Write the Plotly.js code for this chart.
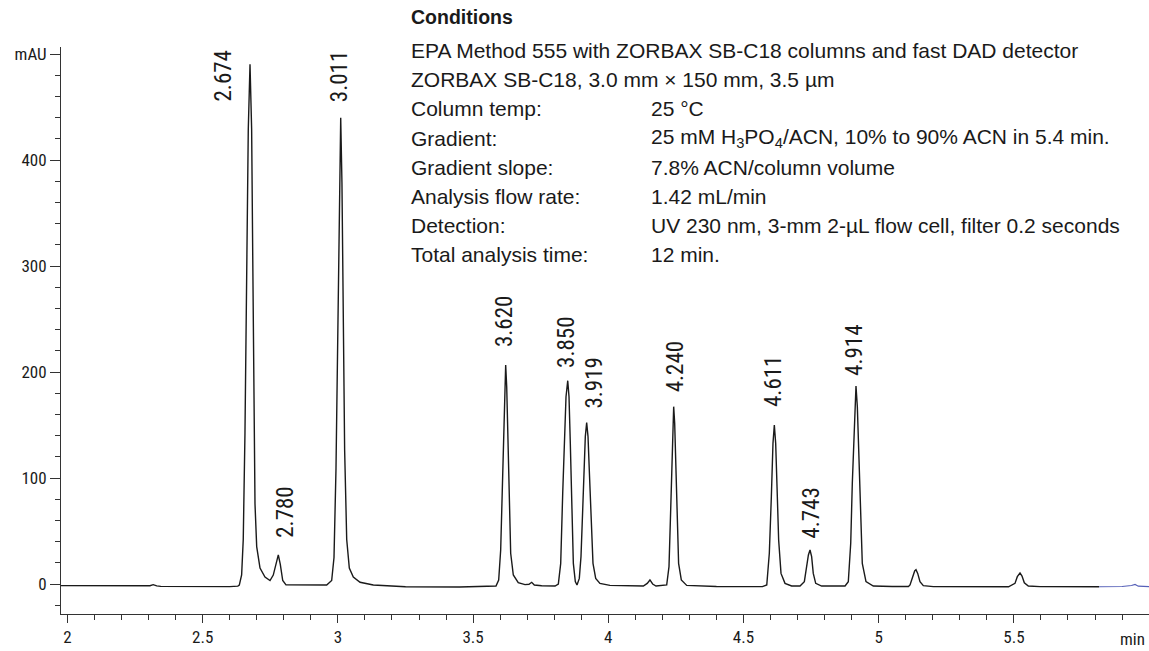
<!DOCTYPE html>
<html><head><meta charset="utf-8">
<script src="https://cdn.plot.ly/plotly-3.0.1.min.js"></script>
<style>html,body{margin:0;padding:0;background:#fff;}#chart{width:1149px;height:651px;}</style>
</head><body><div id="chart"></div>
<script>
// ---- chromatogram trace (minutes, mAU) ----
const traceTime = [1.976,2.10,2.20,2.29,2.305,2.317,2.330,2.345,2.45,2.60,2.630,
 2.6354,2.644,2.650,2.6564,2.6627,2.6686,2.675,2.681,2.685,2.6886,2.6934,2.6997,2.712,2.7304,2.749,
 2.761,2.771,2.7796,2.787,2.796,2.808,2.86,2.9586,
 2.977,2.9856,2.993,2.999,3.005,3.0104,3.015,3.020,3.025,3.0326,3.0422,3.057,3.082,3.131,
 3.25,3.45,3.57,
 3.5847,3.5946,3.602,3.608,3.613,3.617,3.6205,3.6243,3.628,3.6328,3.639,3.6487,3.667,3.692,3.7067,3.7167,3.7264,3.7537,3.803,
 3.8152,3.824,3.8314,3.8373,3.8436,3.850,3.8547,3.8595,3.8646,3.8707,3.878,3.8843,
 3.8928,3.899,3.9053,3.910,3.915,3.920,3.925,3.9297,3.936,3.9434,3.9534,3.969,4.006,4.068,4.1295,
 4.144,4.154,4.164,4.1764,
 4.216,4.2245,4.2307,4.2356,4.2386,4.2418,4.2455,4.249,4.254,4.260,4.270,4.290,4.40,4.57,
 4.586,4.5955,4.603,4.609,4.614,4.619,4.624,4.630,4.6387,4.6535,4.678,4.709,
 4.725,4.7337,4.740,4.746,4.752,4.758,4.767,4.789,4.8755,
 4.8876,4.8965,4.9024,4.9076,4.9124,4.916,4.921,4.926,4.932,4.9393,4.953,4.980,5.05,5.11,
 5.1158,5.1257,5.133,5.138,5.1442,5.1527,5.165,5.202,5.30,5.48,
 5.504,5.5126,5.5226,5.53,5.5385,5.5533,5.5965,5.70,5.815];
const traceSignal = [-1.5,-1.7,-1.9,-2.0,-1.6,-0.6,-1.8,-2.2,-2.4,-2.5,-2.0,
 -1.0,8.5,42,143,294,429,490.3,429,311,176.6,75.7,35.3,15,6.6,3.3,
 8.4,20.2,27.5,18.5,3.3,-0.8,-1.0,-1.0,
 3.3,25,109,244,378.6,439.8,378.6,244,126,42,15,6.6,1.6,-1.0,
 -2.6,-2.8,-2.6,
 -1.9,3.8,32,88.7,148.4,186,206.6,186,139,76,29,8.5,1.2,-0.6,-0.3,1.6,-0.9,-1.6,-1.9,
 0,19.5,85.5,139,176.7,191.8,176.7,132.7,69.8,19.5,2.2,-0.9,
 5.3,25.8,69.8,110.7,139,152.2,139,107.5,57.2,19.5,5.3,0.6,-1.3,-1.9,-1.9,
 0.6,3.8,0,-1.9,
 -0.9,16.4,69.8,126.4,154.7,167.3,151.6,117,63.5,19.5,3.8,-1.3,-2.4,-2.5,
 -0.9,29,82.4,132.7,150,132.7,91.8,41.5,10,0.6,-1.9,-1.9,
 2.2,16.4,27.4,32.1,25.8,10,0.6,-1.9,-1.9,
 2.2,38.4,95,139,176.7,186.8,167.3,123.3,63.5,19.5,2.2,-1.9,-2.3,-2.4,
 -0.9,6.9,12.3,13.5,10,2.2,-1.6,-2.5,-2.6,-2.6,
 0.6,6.9,10.4,7.5,1.2,-1.9,-2.5,-2.6,-2.6];
// blue tail at the end of the run
const tailTime = [5.815,5.90,5.935,5.948,5.960,5.9996];
const tailSignal = [-2.6,-2.3,-1.4,-0.4,-2.0,-2.5];

// ---- peak labels ----
const peakLabels = ['2.674','2.780','3.011','3.620','3.850','3.919','4.240','4.611','4.743','4.914'];
const peakTimes = [2.674,2.780,3.011,3.620,3.850,3.919,4.240,4.611,4.743,4.914];
const peakHeights = [490.3,27.5,439.8,206.6,191.8,152.2,167.3,150,32.1,186.8];

// ---- axes ----
const xTickVals = [2,2.5,3,3.5,4,4.5,5,5.5];
const xTickText = ['2','2.5','3','3.5','4','4.5','5','5.5'];
const yTickVals = [0,100,200,300,400,500];
const yTickText = ['0','100','200','300','400','mAU'];

// ---- conditions text ----
const condTitle = 'Conditions';
const condWide = ['EPA Method 555 with ZORBAX SB-C18 columns and fast DAD detector',
 'ZORBAX SB-C18, 3.0 mm \u00d7 150 mm, 3.5 \u00b5m'];
const condKeys = ['Column temp:','Gradient:','Gradient slope:','Analysis flow rate:','Detection:','Total analysis time:'];
const condVals = ['25 \u00b0C','25 mM H<sub>3</sub>PO<sub>4</sub>/ACN, 10% to 90% ACN in 5.4 min.',
 '7.8% ACN/column volume','1.42 mL/min','UV 230 nm, 3-mm 2-\u00b5L flow cell, filter 0.2 seconds','12 min.'];

// ---------------- layout / styling ----------------
const W = 1149, H = 651, L = 61, T = 47, B = 37;
const PW = W - L, PH = H - T - B;
const px2paperX = p => (p - L) / PW;
const px2paperY = p => (H - B - p) / PH;
const narrow = "'Roboto Condensed','DejaVu Sans Condensed',sans-serif";
const plain = "'Liberation Sans',Arial,sans-serif";
const ink = '#1a1a1a';

// label nudges in pixels [dx, dy]
const labelNudge = [[-26,-38],[7,16],[-2,15],[-1,17],[-2,12],[8,13],[2,13],[0,17],[2,10],[-1,9]];

const annotations = [];
peakLabels.forEach((t,i)=>{
  annotations.push({xref:'x',yref:'y',x:peakTimes[i],y:peakHeights[i],text:t,textangle:-90,
    showarrow:false,xanchor:'center',yanchor:'bottom',xshift:labelNudge[i][0],yshift:labelNudge[i][1],
    font:{family:narrow,size:23,color:ink},borderpad:0});
});
const rowY0 = 50.5, rowStep = 29.2, colX1 = 410, colX2 = 650;
annotations.push({xref:'paper',yref:'paper',x:px2paperX(colX1),y:px2paperY(17),text:'<b>'+condTitle+'</b>',
  showarrow:false,xanchor:'left',yanchor:'middle',font:{family:plain,size:19.5,color:ink},borderpad:0});
condWide.forEach((t,i)=>annotations.push({xref:'paper',yref:'paper',x:px2paperX(colX1),y:px2paperY(rowY0+i*rowStep),
  text:t,showarrow:false,xanchor:'left',yanchor:'middle',font:{family:plain,size:21,color:ink},borderpad:0}));
condKeys.forEach((t,i)=>{
  const yy = px2paperY(rowY0+(i+2)*rowStep);
  annotations.push({xref:'paper',yref:'paper',x:px2paperX(colX1),y:yy,text:t,showarrow:false,xanchor:'left',yanchor:'middle',
    font:{family:plain,size:21,color:ink},borderpad:0});
  annotations.push({xref:'paper',yref:'paper',x:px2paperX(colX2),y:yy,text:condVals[i],showarrow:false,xanchor:'left',yanchor:'middle',
    font:{family:plain,size:21,color:ink},borderpad:0});
});
annotations.push({xref:'paper',yref:'paper',x:px2paperX(1132),y:px2paperY(639),text:'min',showarrow:false,
  xanchor:'center',yanchor:'middle',font:{family:narrow,size:17,color:ink},borderpad:0});

const data = [
  {x:traceTime,y:traceSignal,type:'scatter',mode:'lines',line:{color:ink,width:1.4},hoverinfo:'skip'},
  {x:tailTime,y:tailSignal,type:'scatter',mode:'lines',line:{color:'#5660b8',width:1.1},hoverinfo:'skip'}
];
const axisCommon = {showline:true,linecolor:'#333',linewidth:1,ticks:'outside',tickwidth:1,tickcolor:'#333',
  showgrid:false,zeroline:false,fixedrange:true,tickfont:{family:narrow,size:17,color:ink}};
const layout = {
  width:W,height:H,margin:{l:L,r:0,t:T,b:B,pad:0},paper_bgcolor:'#fff',plot_bgcolor:'#fff',showlegend:false,
  font:{family:narrow,color:ink},
  xaxis:Object.assign({},axisCommon,{range:[1.976,5.9996],tickmode:'array',tickvals:xTickVals,ticktext:xTickText,ticklen:8,
    minor:{tickmode:'linear',tick0:0,dtick:0.1,ticks:'outside',ticklen:5,tickwidth:1,tickcolor:'#333',showgrid:false}}),
  yaxis:Object.assign({},axisCommon,{range:[-28.3,506.6],tickmode:'array',tickvals:yTickVals,ticktext:yTickText,ticklen:10,
    minor:{tickmode:'linear',tick0:0,dtick:20,ticks:'outside',ticklen:5,tickwidth:1,tickcolor:'#333',showgrid:false}}),
  annotations:annotations
};
Plotly.newPlot('chart',data,layout,{staticPlot:true,displayModeBar:false});
</script></body></html>
